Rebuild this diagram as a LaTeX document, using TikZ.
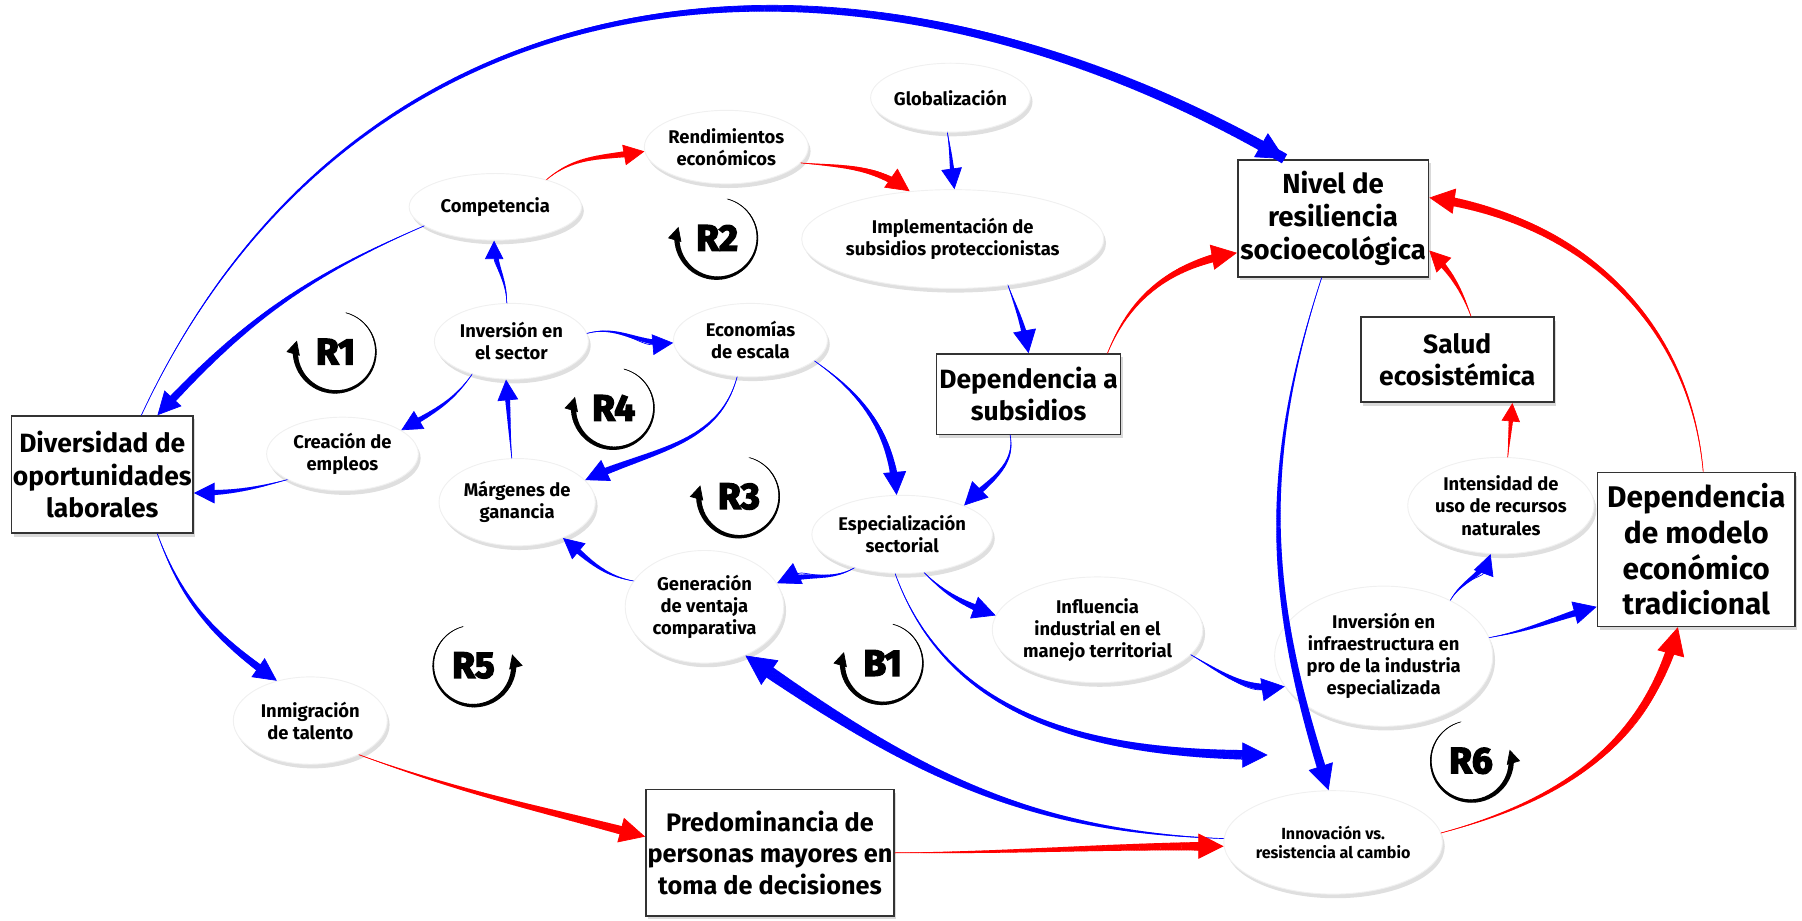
\documentclass[tikz,border=0pt]{standalone}
\usepackage{fontspec}
\setmainfont{Fira Sans}
\newfontfamily\loopfont{Fira Sans}[BoldFeatures={FakeBold=4}]
\usetikzlibrary{shapes.geometric, arrows.meta, decorations.markings, shadows}

\tikzset{
  var/.style={ellipse, fill=white, draw=black!6, inner sep=0pt, align=center,
    font=\fontsize{8}{9.6}\selectfont\bfseries,
    drop shadow={shadow xshift=1pt, shadow yshift=-1.8pt, opacity=0.25}},
  stock/.style={rectangle, fill=white, draw=black!80, line width=0.7pt, inner sep=0pt,
    align=center, font=\fontsize{11.5}{14}\selectfont\bfseries,
    drop shadow={shadow xshift=1pt, shadow yshift=-1.5pt, opacity=0.3}},
  flow/.style 2 args={line width=0.3pt, -{Triangle[length=#2pt, width=#2pt]},
    postaction={decorate, decoration={markings,
      mark=between positions 0 and -0.7*#2pt step 0.7pt with {
        \pgfmathsetmacro\hw{#1*\pgfkeysvalueof{/pgf/decoration/mark info/distance from start}/\pgfdecoratedpathlength}
        \fill (-0.45pt,-\hw pt) rectangle (0.45pt,\hw pt);}}}},
  bluelink/.style 2 args={blue, flow={#1}{#2}},
  redlink/.style 2 args={red, flow={#1}{#2}},
  looplabel/.style={font=\fontsize{16}{16}\loopfont\bfseries},
  looparc/.style={black, flow={1.2}{6}},
}

\begin{document}
\begin{tikzpicture}[x=0.5pt, y=0.5pt]
  \useasboundingbox (0,0) rectangle (1568,-801);

  % Variables
  \node[var, minimum width=65pt, minimum height=30pt] (glob) at (827,-85) {Globalización};
  \node[var, minimum width=65pt, minimum height=32pt] (rend) at (632,-128) {Rendimientos\\económicos};
  \node[var, minimum width=75pt, minimum height=29pt] (comp) at (431,-180) {Competencia};
  \node[var, minimum width=109pt, minimum height=43pt] (impl) at (829,-208) {Implementación de\\subsidios proteccionistas};
  \node[var, minimum width=67pt, minimum height=33pt] (inv) at (445,-297) {Inversión en\\el sector};
  \node[var, minimum width=67pt, minimum height=32pt] (econ) at (653,-296) {Economías\\de escala};
  \node[var, minimum width=66pt, minimum height=32pt] (crea) at (298,-395) {Creación de\\empleos};
  \node[var, minimum width=68pt, minimum height=38pt] (marg) at (450,-437) {Márgenes de\\ganancia};
  \node[var, minimum width=75pt, minimum height=34pt] (spec) at (785,-465) {Especialización\\sectorial};
  \node[var, minimum width=77pt, minimum height=42pt] (int) at (1306,-440) {Intensidad de\\uso de recursos\\naturales};
  \node[var, minimum width=69pt, minimum height=49pt] (gen) at (613,-528) {Generación\\de ventaja\\comparativa};
  \node[var, minimum width=78pt, minimum height=46pt] (infl) at (955,-548) {Influencia\\industrial en el\\manejo territorial};
  \node[var, minimum width=81pt, minimum height=61pt] (infra) at (1204,-571) {Inversión en\\infraestructura en\\pro de la industria\\especializada};
  \node[var, minimum width=67pt, minimum height=38pt] (inmig) at (270,-627) {Inmigración\\de talento};
  \node[var, minimum width=75pt, minimum height=45pt, font=\fontsize{7}{8.6}\selectfont\bfseries] (innov) at (1160,-733) {Innovación vs.\\resistencia al cambio};

  % Stocks
  \node[stock, minimum width=83pt, minimum height=51pt, font=\fontsize{12}{14.2}\selectfont\bfseries] (nivel) at (1160,-190) {Nivel de\\resiliencia\\socioecológica};
  \node[stock, minimum width=80pt, minimum height=35pt] (depsub) at (895,-343) {Dependencia a\\subsidios};
  \node[stock, minimum width=84pt, minimum height=37pt] (salud) at (1268,-313) {Salud\\ecosistémica};
  \node[stock, minimum width=79pt, minimum height=51pt] (div) at (89,-413) {Diversidad de\\oportunidades\\laborales};
  \node[stock, minimum width=86pt, minimum height=67pt, font=\fontsize{13}{15.5}\selectfont\bfseries] (depmod) at (1476,-478) {Dependencia\\de modelo\\económico\\tradicional};
  \node[stock, minimum width=108pt, minimum height=55pt, font=\fontsize{11}{13.7}\selectfont\bfseries] (pred) at (670,-742) {Predominancia de\\personas mayores en\\toma de decisiones};

  \coordinate (infraIn) at (1103,-657);

  % Blue links
  \draw[bluelink={1.8}{10}] (comp.195) to[bend right=12] ([xshift=24pt]div.north);
  \draw[bluelink={2.3}{12}] ([xshift=17pt]div.north) to[out=65, in=150, looseness=1.1] ([xshift=-21pt]nivel.north);
  \draw[bluelink={1.4}{9}] (glob.265) to[out=-80, in=98] (impl.88);
  \draw[bluelink={1.3}{8}] (inv.97) to[out=90, in=-90] (comp.268);
  \draw[bluelink={1.4}{9}] (inv.6) to[out=15, in=185] (econ.182);
  \draw[bluelink={1.4}{9}] (inv.220) to[out=-125, in=30] (crea.22);
  \draw[bluelink={1.4}{9}] (crea.205) to[out=195, in=0] ([yshift=-8pt]div.east);
  \draw[bluelink={1.4}{9}] (marg.97) to[out=95, in=-85] (inv.262);
  \draw[bluelink={1.7}{10}] (econ.250) to[out=-105, in=25] (marg.18);
  \draw[bluelink={1.8}{10}] (econ.-18) to[out=-35, in=95] (spec.98);
  \draw[bluelink={1.6}{10}] (impl.-40) to[out=-70, in=100] (depsub.north);
  \draw[bluelink={1.6}{10}] ([xshift=-8pt]depsub.south) to[out=-80, in=45] (spec.25);
  \draw[bluelink={1.6}{10}] (spec.215) to[out=-150, in=25] (gen.18);
  \draw[bluelink={1.5}{9}] (gen.160) to[out=170, in=-40] (marg.-38);
  \draw[bluelink={1.8}{10}] (spec.-60) to[out=-45, in=160] (infl.172);
  \draw[bluelink={2.2}{11}] (spec.-100) to[out=-70, in=180] (infraIn);
  \draw[bluelink={1.8}{10}] (infl.-15) to[out=-30, in=188] (infra.197);
  \draw[bluelink={1.6}{9}] (infra.40) to[out=60, in=-110] (int.258);
  \draw[bluelink={1.7}{10}] (infra.10) to[out=10, in=195] ([yshift=-25pt]depmod.west);
  \draw[bluelink={2}{11}] ([xshift=-5pt]nivel.south) to[out=-108, in=108] (innov.95);
  \draw[bluelink={2.8}{13}] (innov.178) to[out=178, in=-35] (gen.-50);
  \draw[bluelink={1.8}{10}] ([xshift=24pt]div.south) to[out=-70, in=145] (inmig.130);

  % Red links
  \draw[redlink={1.6}{9}] (comp.28) to[out=40, in=190] (rend.183);
  \draw[redlink={1.8}{10}] (rend.-12) to[out=-5, in=145] (impl.132);
  \draw[redlink={2}{11}] ([xshift=-6pt]depsub.north east) to[out=68, in=190] ([yshift=-15pt]nivel.west);
  \draw[redlink={1.4}{8}] (int.82) to[out=85, in=-95] ([xshift=24pt]salud.south);
  \draw[redlink={1.6}{9}] ([xshift=6pt]salud.north) to[out=110, in=-45] ([yshift=-14pt]nivel.east);
  \draw[redlink={2}{11}] ([xshift=3pt]depmod.north) to[out=95, in=-8] ([yshift=9pt]nivel.east);
  \draw[redlink={2.2}{12}] (innov.5) to[out=15, in=-105] ([xshift=-8pt]depmod.south);
  \draw[redlink={2}{11}] (inmig.-35) to[out=-20, in=165] ([yshift=7pt]pred.west);
  \draw[redlink={2}{11}] (pred.east) to[out=0, in=180] (innov.182);

  % Loop markers
  \node[looplabel] (r1) at (292,-306) {R1};
  \node[looplabel] (r2) at (624,-207) {R2};
  \node[looplabel] (r4) at (534,-355) {R4};
  \node[looplabel] (r3) at (643,-432) {R3};
  \node[looplabel] (r5) at (412,-579) {R5};
  \node[looplabel] (b1) at (768,-577) {B1};
  \node[looplabel] (r6) at (1280,-662) {R6};
  \draw[looparc] ([shift={(75:17.5pt)}]r1.center) arc[start angle=75, end angle=-196, radius=17.5pt];
  \draw[looparc] ([shift={(75:17.5pt)}]r2.center) arc[start angle=75, end angle=-196, radius=17.5pt];
  \draw[looparc] ([shift={(75:17.5pt)}]r4.center) arc[start angle=75, end angle=-196, radius=17.5pt];
  \draw[looparc] ([shift={(75:17.5pt)}]r3.center) arc[start angle=75, end angle=-196, radius=17.5pt];
  \draw[looparc] ([shift={(75:17.5pt)}]b1.center) arc[start angle=75, end angle=-196, radius=17.5pt];
  \draw[looparc] ([shift={(105:17.5pt)}]r5.center) arc[start angle=105, end angle=376, radius=17.5pt];
  \draw[looparc] ([shift={(105:17.5pt)}]r6.center) arc[start angle=105, end angle=376, radius=17.5pt];
\end{tikzpicture}
\end{document}
